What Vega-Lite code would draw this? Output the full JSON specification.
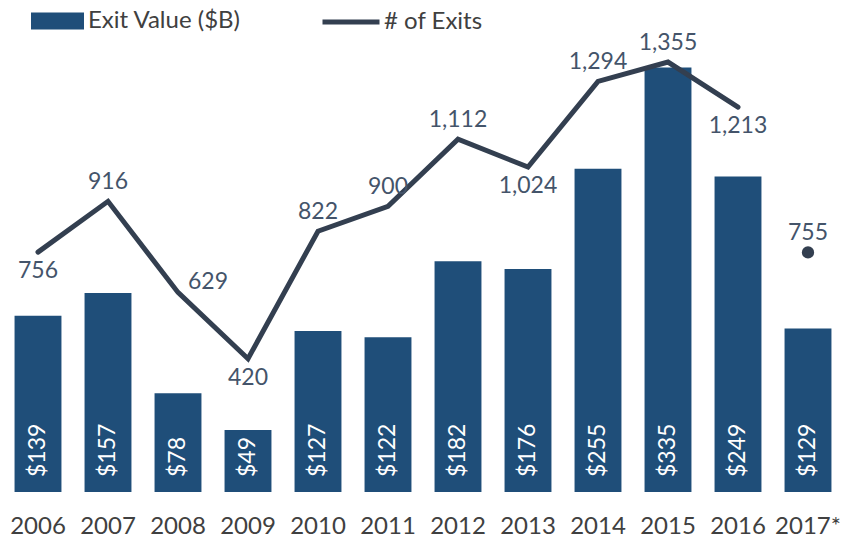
{
  "$schema": "https://vega.github.io/schema/vega-lite/v6.json",
  "width": 840,
  "height": 452,
  "padding": {"left": 3, "top": 40, "right": 7, "bottom": 47},
  "autosize": {"type": "none"},
  "background": "white",
  "config": {
    "view": {"stroke": null},
    "font": "Lato",
    "text": {"font": "Lato"}
  },
  "data": {
    "values": [
      {"year": "2006", "value": 139, "exits": 756, "side": "below"},
      {"year": "2007", "value": 157, "exits": 916, "side": "above"},
      {"year": "2008", "value": 78, "exits": 629, "side": "right"},
      {"year": "2009", "value": 49, "exits": 420, "side": "below"},
      {"year": "2010", "value": 127, "exits": 822, "side": "above"},
      {"year": "2011", "value": 122, "exits": 900, "side": "above"},
      {"year": "2012", "value": 182, "exits": 1112, "side": "above"},
      {"year": "2013", "value": 176, "exits": 1024, "side": "below"},
      {"year": "2014", "value": 255, "exits": 1294, "side": "above"},
      {"year": "2015", "value": 335, "exits": 1355, "side": "above"},
      {"year": "2016", "value": 249, "exits": 1213, "side": "below"},
      {"year": "2017*", "value": 129, "exits": 755, "side": "above"}
    ]
  },
  "encoding": {
    "x": {
      "field": "year",
      "type": "ordinal",
      "sort": null,
      "scale": {"paddingInner": 0.33, "paddingOuter": 0.165},
      "axis": {
        "title": null,
        "domain": false,
        "ticks": false,
        "labelAngle": 0,
        "labelFont": "Lato",
        "labelFontSize": 24,
        "labelColor": "#404040",
        "labelPadding": 22
      }
    }
  },
  "layer": [
    {
      "layer": [
        {
          "mark": {"type": "bar"},
          "encoding": {
            "y": {
              "field": "value",
              "type": "quantitative",
              "scale": {"domain": [0, 356.6], "nice": false, "zero": true},
              "axis": null
            },
            "fill": {
              "datum": "Exit Value ($B)",
              "type": "nominal",
              "scale": {"range": ["#1F4E79"]},
              "legend": {
                "title": null,
                "orient": "none",
                "legendX": 28,
                "legendY": -45.5,
                "padding": 0,
                "symbolType": "M-1,-0.32H1V0.32H-1Z",
                "symbolSize": 2809,
                "symbolStrokeWidth": 0,
                "symbolOpacity": 1,
                "labelFont": "Lato",
                "labelFontSize": 24,
                "labelColor": "#404040",
                "labelOffset": 4
              }
            }
          }
        },
        {
          "mark": {
            "type": "text",
            "angle": 270,
            "align": "left",
            "baseline": "middle",
            "dx": 15,
            "color": "white",
            "font": "Lato",
            "fontSize": 23
          },
          "encoding": {
            "y": {"datum": 0, "type": "quantitative"},
            "text": {"field": "value", "type": "quantitative", "format": "$,.0f"}
          }
        }
      ]
    },
    {
      "layer": [
        {
          "transform": [{"filter": "datum.year !== '2017*'"}],
          "mark": {"type": "line", "strokeWidth": 5, "strokeCap": "round", "strokeJoin": "miter"},
          "encoding": {
            "y": {
              "field": "exits",
              "type": "quantitative",
              "scale": {"domain": [0, 1424.5], "nice": false, "zero": true},
              "axis": null
            },
            "stroke": {
              "datum": "# of Exits",
              "type": "nominal",
              "scale": {"range": ["#333F50"]},
              "legend": {
                "title": null,
                "orient": "none",
                "legendX": 317,
                "legendY": -49,
                "padding": 0,
                "symbolType": "stroke",
                "symbolSize": 3249,
                "symbolStrokeWidth": 5,
                "labelFont": "Lato",
                "labelFontSize": 24,
                "labelColor": "#404040",
                "labelOffset": 2
              }
            }
          }
        },
        {
          "transform": [{"filter": "datum.year === '2017*'"}],
          "mark": {"type": "point", "filled": true, "size": 150, "opacity": 1, "color": "#333F50"},
          "encoding": {
            "y": {"field": "exits", "type": "quantitative"}
          }
        },
        {
          "transform": [{"filter": "datum.side === 'above'"}],
          "mark": {"type": "text", "dy": -19, "baseline": "middle", "font": "Lato", "fontSize": 23, "color": "#44546A"},
          "encoding": {
            "y": {"field": "exits", "type": "quantitative"},
            "text": {"field": "exits", "type": "quantitative", "format": ",.0f"}
          }
        },
        {
          "transform": [{"filter": "datum.side === 'below'"}],
          "mark": {"type": "text", "dy": 19, "baseline": "middle", "font": "Lato", "fontSize": 23, "color": "#44546A"},
          "encoding": {
            "y": {"field": "exits", "type": "quantitative"},
            "text": {"field": "exits", "type": "quantitative", "format": ",.0f"}
          }
        },
        {
          "transform": [{"filter": "datum.side === 'right'"}],
          "mark": {"type": "text", "dx": 10, "dy": -10, "align": "left", "baseline": "middle", "font": "Lato", "fontSize": 23, "color": "#44546A"},
          "encoding": {
            "y": {"field": "exits", "type": "quantitative"},
            "text": {"field": "exits", "type": "quantitative", "format": ",.0f"}
          }
        }
      ]
    }
  ],
  "resolve": {"scale": {"y": "independent"}}
}
